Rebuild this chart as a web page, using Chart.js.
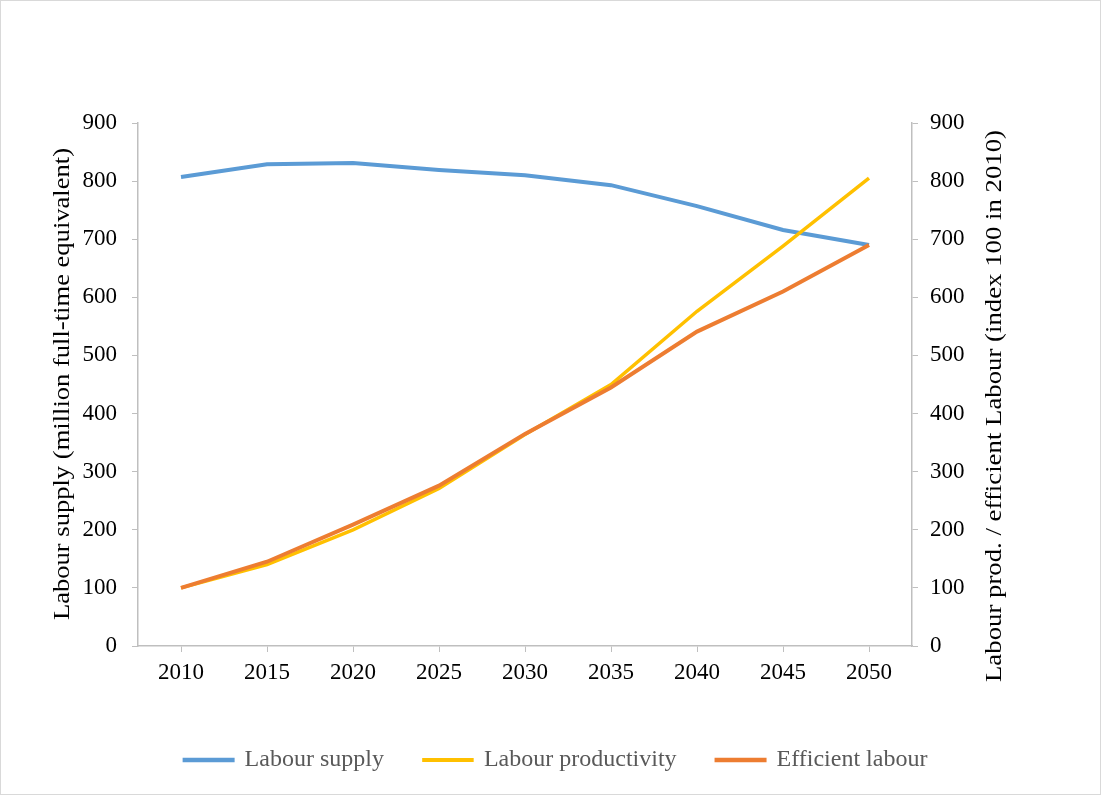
<!DOCTYPE html>
<html>
<head>
<meta charset="utf-8">
<script src="https://cdn.jsdelivr.net/npm/chart.js@4/dist/chart.umd.min.js"></script>
<style>
  html, body { margin: 0; padding: 0; background: #fff; }
  #wrap { position: relative; width: 1101px; height: 795px; }
</style>
</head>
<body>
<div id="wrap"><canvas id="grafico" width="1101" height="795"></canvas></div>
<script>
// Dados do gráfico
const anos = ["2010", "2015", "2020", "2025", "2030", "2035", "2040", "2045", "2050"];
const labourSupply = [807, 829, 831, 819, 810, 793, 757, 716, 690];
const labourProductivity = [100, 140, 200, 271, 364, 450, 576, 688, 805];
const efficientLabour = [100, 145, 209, 276, 365, 445, 541, 610, 690];

const tituloEsq = "Labour supply (million full-time equivalent)";
const tituloDir = "Labour prod. / efficient Labour (index 100 in 2010)";

const FONTE = "'Liberation Serif', 'Times New Roman', serif";
const CINZA = "#bfbfbf";

// escreve um título vertical (de baixo para cima), esticado até o comprimento pedido
function tituloVertical(ctx, texto, x, y, comprimento) {
    ctx.save();
    ctx.font = "23px " + FONTE;
    ctx.fillStyle = "#000";
    ctx.textAlign = "center";
    ctx.textBaseline = "middle";
    const w = ctx.measureText(texto).width;
    ctx.translate(x, y);
    ctx.rotate(-Math.PI / 2);
    ctx.scale(comprimento / w, 1);
    ctx.fillText(texto, 0, 0);
    ctx.restore();
}

// Borda externa + títulos dos eixos
const extras = {
    id: "extras",
    afterDraw(chart) {
        const ctx = chart.ctx;
        ctx.save();
        ctx.strokeStyle = "#d9d9d9";
        ctx.lineWidth = 1;
        ctx.strokeRect(0.5, 0.5, chart.width - 1, chart.height - 1);
        ctx.restore();
        tituloVertical(ctx, tituloEsq, 63, 384, 472);
        tituloVertical(ctx, tituloDir, 995, 406, 552);
    },
};

document.addEventListener("DOMContentLoaded", () => {
    const ctx = document.getElementById("grafico").getContext("2d");

    const myChart = new Chart(ctx, {
        type: "line",
        data: {
            labels: anos,
            datasets: [
                {
                    label: "Labour supply",
                    data: labourSupply,
                    borderColor: "#5b9bd5",
                    backgroundColor: "#5b9bd5",
                    borderWidth: 4,
                    pointRadius: 0,
                    yAxisID: "y",
                    order: 3,
                },
                {
                    label: "Labour productivity",
                    data: labourProductivity,
                    borderColor: "#ffc000",
                    backgroundColor: "#ffc000",
                    borderWidth: 3.5,
                    pointRadius: 0,
                    yAxisID: "y1",
                    order: 2,
                },
                {
                    label: "Efficient labour",
                    data: efficientLabour,
                    borderColor: "#ed7d31",
                    backgroundColor: "#ed7d31",
                    borderWidth: 4,
                    pointRadius: 0,
                    yAxisID: "y1",
                    order: 1,
                },
            ],
        },
        options: {
            responsive: false,
            animation: false,
            layout: {
                padding: { top: 123, left: 11, right: 0, bottom: 13 },
            },
            plugins: {
                legend: {
                    position: "bottom",
                    labels: {
                        sort: (a, b) => a.datasetIndex - b.datasetIndex,
                        boxWidth: 48,
                        boxHeight: 0.5,
                        padding: 40,
                        color: "#595959",
                        font: { family: FONTE, size: 24 },
                    },
                },
                tooltip: { enabled: false },
            },
            scales: {
                x: {
                    offset: true,
                    grid: {
                        offset: false,
                        drawOnChartArea: false,
                        color: CINZA,
                        tickLength: 6,
                    },
                    border: { color: CINZA, width: 1.5 },
                    ticks: {
                        color: "#000",
                        padding: 7,
                        maxRotation: 0,
                        font: { family: FONTE, size: 23 },
                    },
                    afterFit(scale) { scale.height = 62; },
                },
                y: {
                    position: "left",
                    min: 0,
                    max: 900,
                    ticks: {
                        stepSize: 100,
                        color: "#000",
                        padding: 15,
                        font: { family: FONTE, size: 23 },
                    },
                    grid: {
                        drawOnChartArea: false,
                        color: CINZA,
                        tickLength: 6,
                    },
                    border: { color: CINZA, width: 1.5 },
                    afterFit(scale) { scale.width = 127; },
                },
                y1: {
                    position: "right",
                    min: 0,
                    max: 900,
                    ticks: {
                        stepSize: 100,
                        color: "#000",
                        padding: 12,
                        font: { family: FONTE, size: 23 },
                    },
                    grid: {
                        drawOnChartArea: false,
                        color: CINZA,
                        tickLength: 6,
                    },
                    border: { color: CINZA, width: 1.5 },
                    afterFit(scale) { scale.width = 189; },
                },
            },
        },
        plugins: [extras],
    });
});
</script>
</body>
</html>
